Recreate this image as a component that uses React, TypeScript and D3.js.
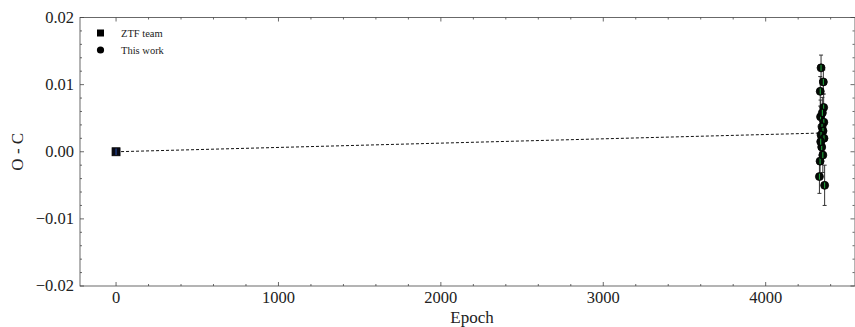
import React from "react";
import * as d3 from "d3";

// ZTF team timing point
const ztfEpoch = [0];
const ztfOC = [0];
const ztfErr = [0.0004];

// This work timings
const workEpoch = [4341, 4355, 4336, 4357, 4338, 4358, 4347, 4353, 4341, 4359, 4345, 4335, 4331, 4363, 4349, 4339, 4352];
const workOC = [0.0125, 0.0104, 0.009, 0.0066, 0.0052, 0.0044, 0.0037, 0.0031, 0.0025, 0.002, 0.0007, -0.0014, -0.0037, -0.005, 0.0058, 0.0015, -0.0005];
const workErr = [0.0019, 0.0018, 0.0022, 0.002, 0.0025, 0.002, 0.0018, 0.0022, 0.002, 0.0024, 0.0021, 0.0025, 0.0025, 0.003, 0.0023, 0.002, 0.0026];

// linear fit line endpoints
const fitEpoch = [0, 4360];
const fitOC = [0, 0.0028];

const xTicks = [0, 1000, 2000, 3000, 4000];
const yTicks = [-0.02, -0.01, 0, 0.01, 0.02];
const legendLabels = ["ZTF team", "This work"];

export default function App() {
    const ref = React.useRef<HTMLDivElement>(null);

    React.useEffect(() => {
        d3.select(ref.current).select("svg").remove();
        drawChart();
    }, []);

    function drawChart() {
        const width = 855;
        const height = 327;
        const left = 80, right = 855, top = 17.5, bottom = 286;
        const font = "Liberation Serif, DejaVu Serif, Times New Roman, serif";
        const axisColor = "#444";

        const svg = d3
            .select(ref.current)
            .append("svg")
            .attr("width", width)
            .attr("height", height)
            .style("display", "block")
            .style("font-family", font);

        const x = d3.scaleLinear().domain([-222, 4550]).range([left, right]);
        const y = d3.scaleLinear().domain([-0.02, 0.02]).range([bottom, top]);

        // frame
        svg.append("rect")
            .attr("x", left)
            .attr("y", top)
            .attr("width", right - left)
            .attr("height", bottom - top)
            .attr("fill", "none")
            .attr("stroke", axisColor)
            .attr("stroke-width", 0.8);

        const g = svg.append("g");

        // x ticks (inward, top and bottom)
        const xMinor = d3.range(0, 4600, 200).filter((d) => d % 1000 !== 0);
        const xAll = xTicks.map((d) => ({ v: d, len: 4 })).concat(xMinor.map((d) => ({ v: d, len: 2 })));
        xAll.forEach((t) => {
            g.append("line").attr("x1", x(t.v)).attr("x2", x(t.v)).attr("y1", bottom).attr("y2", bottom - t.len)
                .attr("stroke", axisColor).attr("stroke-width", 0.8);
            g.append("line").attr("x1", x(t.v)).attr("x2", x(t.v)).attr("y1", top).attr("y2", top + t.len)
                .attr("stroke", axisColor).attr("stroke-width", 0.8);
        });

        // y ticks (inward, left and right)
        const yMinor = d3.range(-0.02, 0.0201, 0.002).filter((d) => Math.abs(Math.round(d * 100) - d * 100) > 1e-6);
        const yAll = yTicks.map((d) => ({ v: d, len: 4 })).concat(yMinor.map((d) => ({ v: d, len: 2 })));
        yAll.forEach((t) => {
            g.append("line").attr("x1", left).attr("x2", left + t.len).attr("y1", y(t.v)).attr("y2", y(t.v))
                .attr("stroke", axisColor).attr("stroke-width", 0.8);
            g.append("line").attr("x1", right - 0.5).attr("x2", right - 0.5 - t.len).attr("y1", y(t.v)).attr("y2", y(t.v))
                .attr("stroke", axisColor).attr("stroke-width", 0.8);
        });

        // tick labels
        svg.selectAll(".xlab")
            .data(xTicks)
            .enter()
            .append("text")
            .attr("x", (d) => x(d))
            .attr("y", 303)
            .attr("text-anchor", "middle")
            .style("font-family", font)
            .attr("font-size", 16.5)
            .attr("fill", "#222")
            .text((d) => String(d));

        svg.selectAll(".ylab")
            .data(yTicks)
            .enter()
            .append("text")
            .attr("x", 74)
            .attr("y", (d) => y(d) + 5)
            .attr("text-anchor", "end")
            .style("font-family", font)
            .attr("font-size", 16.5)
            .attr("fill", "#222")
            .text((d) => (d < 0 ? "\u2212" : "") + Math.abs(d).toFixed(2));

        // axis titles
        svg.append("text")
            .attr("x", 472)
            .attr("y", 323)
            .attr("text-anchor", "middle")
            .style("font-family", font)
            .attr("font-size", 17)
            .attr("fill", "#222")
            .text("Epoch");

        svg.append("text")
            .attr("transform", `translate(23,${y(0)}) rotate(-90)`)
            .attr("text-anchor", "middle")
            .style("font-family", font)
            .attr("font-size", 17)
            .attr("fill", "#222")
            .text("O - C");

        // fit line
        svg.append("path")
            .datum(fitEpoch.map((e, i) => [e, fitOC[i]]))
            .attr("fill", "none")
            .attr("stroke", "#111")
            .attr("stroke-width", 1)
            .attr("stroke-dasharray", "3,2")
            .attr("d", d3.line<number[]>().x((d) => x(d[0])).y((d) => y(d[1])));

        // this work: error bars
        const work = workEpoch.map((e, i) => ({ e, v: workOC[i], err: workErr[i] }));
        const eb = svg.append("g");
        work.forEach((d) => {
            eb.append("line").attr("x1", x(d.e)).attr("x2", x(d.e)).attr("y1", y(d.v - d.err)).attr("y2", y(d.v + d.err))
                .attr("stroke", "#333").attr("stroke-width", 1);
            [d.v - d.err, d.v + d.err].forEach((c) => {
                eb.append("line").attr("x1", x(d.e) - 2).attr("x2", x(d.e) + 2).attr("y1", y(c)).attr("y2", y(c))
                    .attr("stroke", "#333").attr("stroke-width", 1);
            });
        });

        // this work: markers
        work.forEach((d) => {
            eb.append("circle").attr("cx", x(d.e)).attr("cy", y(d.v)).attr("r", 4)
                .attr("fill", "#050a05").attr("stroke", "#000").attr("stroke-width", 0.8);
            eb.append("line").attr("x1", x(d.e)).attr("x2", x(d.e)).attr("y1", y(d.v) - 3).attr("y2", y(d.v) + 3)
                .attr("stroke", "#22b040").attr("stroke-width", 1);
        });

        // ZTF team marker
        ztfEpoch.forEach((e, i) => {
            svg.append("rect").attr("x", x(e) - 4).attr("y", y(ztfOC[i]) - 4).attr("width", 8).attr("height", 8)
                .attr("fill", "#0a0a14").attr("stroke", "#000").attr("stroke-width", 0.8);
            svg.append("line").attr("x1", x(e)).attr("x2", x(e)).attr("y1", y(ztfOC[i] - ztfErr[i]) + 0.5).attr("y2", y(ztfOC[i] + ztfErr[i]) - 0.5)
                .attr("stroke", "#1f3f8a").attr("stroke-width", 1.3);
        });

        // legend
        const lg = svg.append("g");
        lg.append("rect").attr("x", 97).attr("y", 29.5).attr("width", 7).attr("height", 7).attr("fill", "#000");
        lg.append("circle").attr("cx", 100.5).attr("cy", 50).attr("r", 3.6).attr("fill", "#000");
        legendLabels.forEach((l, i) => {
            lg.append("text")
                .attr("x", 121)
                .attr("y", 37 + i * 16.5)
                .style("font-family", font)
                .attr("font-size", 10.5)
                .attr("fill", "#222")
                .text(l);
        });
    }

    return <div ref={ref} style={{ position: "absolute", left: 0, top: 0 }} />;
}
